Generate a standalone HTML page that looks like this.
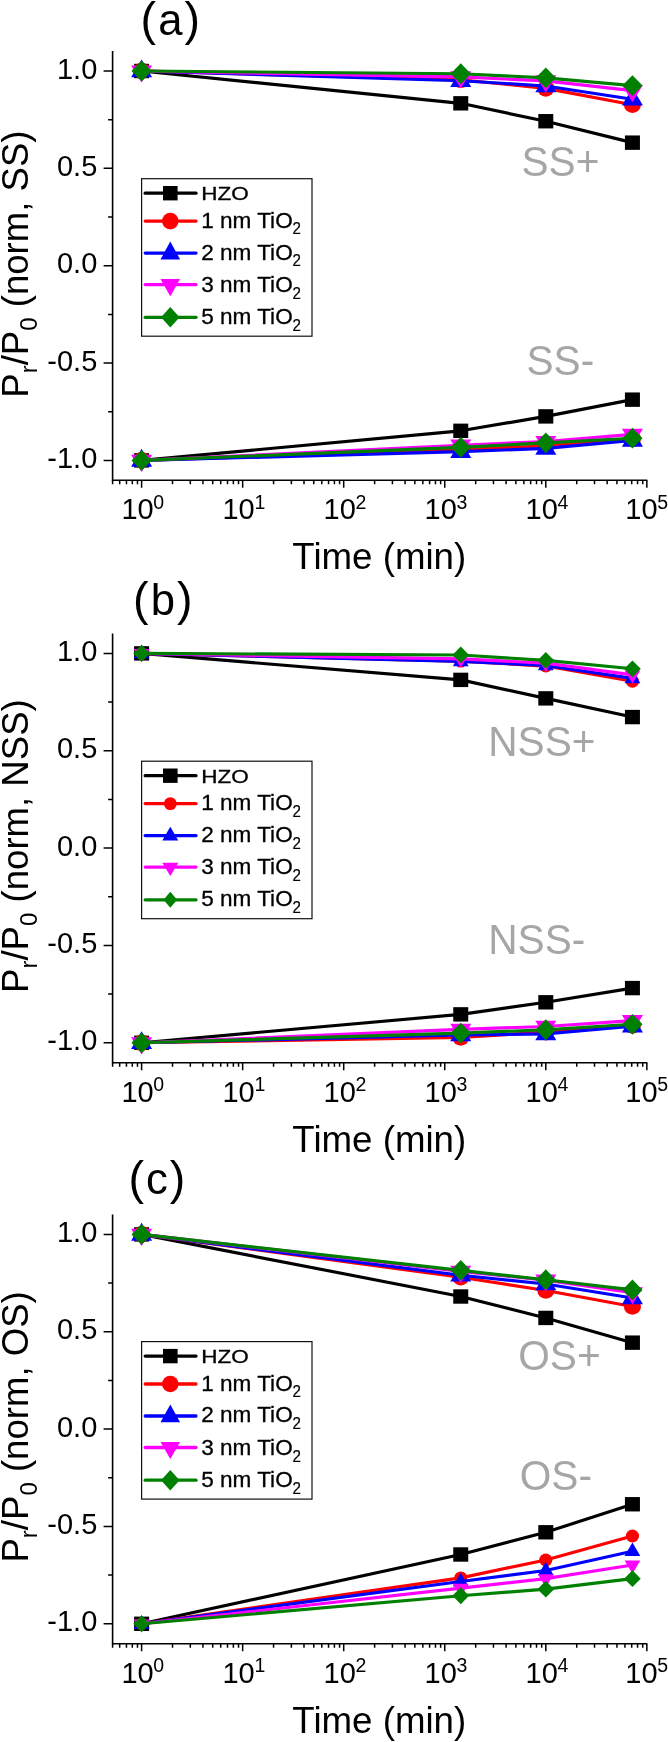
<!DOCTYPE html>
<html><head><meta charset="utf-8"><title>Retention</title>
<style>html,body{margin:0;padding:0;background:#fff}svg{display:block;will-change:transform}text{font-family:"Liberation Sans",sans-serif}</style>
</head><body>
<svg width="668" height="1742" viewBox="0 0 668 1742">
<rect width="668" height="1742" fill="#fff"/>
<g transform="translate(0,0)">
<polyline points="141.60,71.00 460.75,103.32 545.80,121.23 632.43,142.65" fill="none" stroke="#000" stroke-width="3.15" stroke-linejoin="round"/>
<rect x="134.10" y="63.80" width="15.0" height="14.4" fill="#000"/>
<rect x="453.25" y="96.12" width="15.0" height="14.4" fill="#000"/>
<rect x="538.30" y="114.03" width="15.0" height="14.4" fill="#000"/>
<rect x="624.93" y="135.45" width="15.0" height="14.4" fill="#000"/>
<polyline points="141.60,71.00 460.75,79.76 545.80,88.33 632.43,104.68" fill="none" stroke="#ff0000" stroke-width="3.15" stroke-linejoin="round"/>
<ellipse cx="141.60" cy="71.00" rx="8.55" ry="8.3" fill="#ff0000"/>
<ellipse cx="460.75" cy="79.76" rx="8.55" ry="8.3" fill="#ff0000"/>
<ellipse cx="545.80" cy="88.33" rx="8.55" ry="8.3" fill="#ff0000"/>
<ellipse cx="632.43" cy="104.68" rx="8.55" ry="8.3" fill="#ff0000"/>
<polyline points="141.60,71.00 460.75,80.74 545.80,85.99 632.43,99.23" fill="none" stroke="#0000ff" stroke-width="3.15" stroke-linejoin="round"/>
<polygon points="141.60,59.40 152.10,77.30 131.10,77.30" fill="#0000ff"/>
<polygon points="460.75,69.14 471.25,87.04 450.25,87.04" fill="#0000ff"/>
<polygon points="545.80,74.39 556.30,92.29 535.30,92.29" fill="#0000ff"/>
<polygon points="632.43,87.63 642.93,105.53 621.93,105.53" fill="#0000ff"/>
<polyline points="141.60,71.00 460.75,76.84 545.80,80.93 632.43,90.66" fill="none" stroke="#ff00ff" stroke-width="3.15" stroke-linejoin="round"/>
<polygon points="141.60,82.60 152.10,65.40 131.10,65.40" fill="#ff00ff"/>
<polygon points="460.75,88.44 471.25,71.24 450.25,71.24" fill="#ff00ff"/>
<polygon points="545.80,92.53 556.30,75.33 535.30,75.33" fill="#ff00ff"/>
<polygon points="632.43,102.26 642.93,85.06 621.93,85.06" fill="#ff00ff"/>
<polyline points="141.60,71.00 460.75,73.73 545.80,77.81 632.43,85.60" fill="none" stroke="#008000" stroke-width="3.15" stroke-linejoin="round"/>
<polygon points="141.60,60.60 151.70,71.00 141.60,81.40 131.50,71.00" fill="#008000"/>
<polygon points="460.75,63.33 470.85,73.73 460.75,84.13 450.65,73.73" fill="#008000"/>
<polygon points="545.80,67.41 555.90,77.81 545.80,88.21 535.70,77.81" fill="#008000"/>
<polygon points="632.43,75.20 642.53,85.60 632.43,96.00 622.33,85.60" fill="#008000"/>
<polyline points="141.60,460.40 460.75,430.81 545.80,416.40 632.43,399.65" fill="none" stroke="#000" stroke-width="3.15" stroke-linejoin="round"/>
<rect x="134.10" y="453.20" width="15.0" height="14.4" fill="#000"/>
<rect x="453.25" y="423.61" width="15.0" height="14.4" fill="#000"/>
<rect x="538.30" y="409.20" width="15.0" height="14.4" fill="#000"/>
<rect x="624.93" y="392.45" width="15.0" height="14.4" fill="#000"/>
<polyline points="141.60,460.40 460.75,449.69 545.80,445.80 632.43,438.98" fill="none" stroke="#ff0000" stroke-width="3.15" stroke-linejoin="round"/>
<ellipse cx="141.60" cy="460.40" rx="8.55" ry="8.3" fill="#ff0000"/>
<ellipse cx="460.75" cy="449.69" rx="8.55" ry="8.3" fill="#ff0000"/>
<ellipse cx="545.80" cy="445.80" rx="8.55" ry="8.3" fill="#ff0000"/>
<ellipse cx="632.43" cy="438.98" rx="8.55" ry="8.3" fill="#ff0000"/>
<polyline points="141.60,460.40 460.75,451.64 545.80,448.33 632.43,440.35" fill="none" stroke="#0000ff" stroke-width="3.15" stroke-linejoin="round"/>
<polygon points="141.60,448.80 152.10,466.70 131.10,466.70" fill="#0000ff"/>
<polygon points="460.75,440.04 471.25,457.94 450.25,457.94" fill="#0000ff"/>
<polygon points="545.80,436.73 556.30,454.63 535.30,454.63" fill="#0000ff"/>
<polygon points="632.43,428.75 642.93,446.65 621.93,446.65" fill="#0000ff"/>
<polyline points="141.60,460.40 460.75,445.21 545.80,441.51 632.43,434.31" fill="none" stroke="#ff00ff" stroke-width="3.15" stroke-linejoin="round"/>
<polygon points="141.60,472.00 152.10,454.80 131.10,454.80" fill="#ff00ff"/>
<polygon points="460.75,456.81 471.25,439.61 450.25,439.61" fill="#ff00ff"/>
<polygon points="545.80,453.11 556.30,435.91 535.30,435.91" fill="#ff00ff"/>
<polygon points="632.43,445.91 642.93,428.71 621.93,428.71" fill="#ff00ff"/>
<polyline points="141.60,460.40 460.75,447.36 545.80,442.88 632.43,438.20" fill="none" stroke="#008000" stroke-width="3.15" stroke-linejoin="round"/>
<polygon points="141.60,450.00 151.70,460.40 141.60,470.80 131.50,460.40" fill="#008000"/>
<polygon points="460.75,436.96 470.85,447.36 460.75,457.76 450.65,447.36" fill="#008000"/>
<polygon points="545.80,432.48 555.90,442.88 545.80,453.28 535.70,442.88" fill="#008000"/>
<polygon points="632.43,427.80 642.53,438.20 632.43,448.60 622.33,438.20" fill="#008000"/>
<path d="M112.6,51.00 V480.30 H647.3000000000001" fill="none" stroke="#000" stroke-width="1.6"/>
<path d="M103.6,71.00 H112.6 M108.1,119.67 H112.6 M103.6,168.35 H112.6 M108.1,217.02 H112.6 M103.6,265.70 H112.6 M108.1,314.38 H112.6 M103.6,363.05 H112.6 M108.1,411.72 H112.6 M103.6,460.40 H112.6 M112.6,480.30 v4 M119.68,480.30 v4 M126.45,480.30 v4 M132.31,480.30 v4 M137.48,480.30 v4 M141.60,480.30 v7.5 M172.52,480.30 v4 M190.31,480.30 v4 M202.94,480.30 v4 M212.73,480.30 v4 M220.73,480.30 v4 M227.50,480.30 v4 M233.36,480.30 v4 M238.53,480.30 v4 M242.65,480.30 v7.5 M273.57,480.30 v4 M291.36,480.30 v4 M303.99,480.30 v4 M313.78,480.30 v4 M321.78,480.30 v4 M328.55,480.30 v4 M334.41,480.30 v4 M339.58,480.30 v4 M343.70,480.30 v7.5 M374.62,480.30 v4 M392.41,480.30 v4 M405.04,480.30 v4 M414.83,480.30 v4 M422.83,480.30 v4 M429.60,480.30 v4 M435.46,480.30 v4 M440.63,480.30 v4 M444.75,480.30 v7.5 M475.67,480.30 v4 M493.46,480.30 v4 M506.09,480.30 v4 M515.88,480.30 v4 M523.88,480.30 v4 M530.65,480.30 v4 M536.51,480.30 v4 M541.68,480.30 v4 M545.80,480.30 v7.5 M576.72,480.30 v4 M594.51,480.30 v4 M607.14,480.30 v4 M616.93,480.30 v4 M624.93,480.30 v4 M631.70,480.30 v4 M637.56,480.30 v4 M642.73,480.30 v4 M646.85,480.30 v7.5" fill="none" stroke="#000" stroke-width="1.5"/>
<text x="97.3" y="78.60" font-size="29" text-anchor="end">1.0</text>
<text x="97.3" y="175.95" font-size="29" text-anchor="end">0.5</text>
<text x="97.3" y="273.30" font-size="29" text-anchor="end">0.0</text>
<text x="97.3" y="370.65" font-size="29" text-anchor="end">-0.5</text>
<text x="97.3" y="468.00" font-size="29" text-anchor="end">-1.0</text>
<text x="121.40" y="519.4" font-size="29">10<tspan font-size="19.5" dy="-10.5" dx="-0.3">0</tspan></text>
<text x="222.45" y="519.4" font-size="29">10<tspan font-size="19.5" dy="-10.5" dx="-0.3">1</tspan></text>
<text x="323.50" y="519.4" font-size="29">10<tspan font-size="19.5" dy="-10.5" dx="-0.3">2</tspan></text>
<text x="424.55" y="519.4" font-size="29">10<tspan font-size="19.5" dy="-10.5" dx="-0.3">3</tspan></text>
<text x="525.60" y="519.4" font-size="29">10<tspan font-size="19.5" dy="-10.5" dx="-0.3">4</tspan></text>
<text x="625.25" y="519.4" font-size="29">10<tspan font-size="19.5" dy="-10.5" dx="-0.3">5</tspan></text>
<text x="379.3" y="569.2" font-size="36.7" text-anchor="middle">Time (min)</text>
<text x="140.6" y="34.5" font-size="46.6" letter-spacing="2.0">(<tspan font-size="43.6">a</tspan>)</text>
<text transform="translate(28.3,264.1) rotate(-90)" font-size="36.6" text-anchor="middle">P<tspan font-size="24" dy="8.5">r</tspan><tspan dy="-8.5">/P</tspan><tspan font-size="24" dy="8.5">0</tspan><tspan dy="-8.5"> (norm, SS)</tspan></text>
<text transform="translate(521.5,176.4) scale(1,1.045)" font-size="40.6" fill="#a6a6a6">SS+</text>
<text transform="translate(526.5,375.4) scale(1,1.045)" font-size="40.6" fill="#a6a6a6">SS-</text>
<rect x="141.6" y="178.7" width="170.4" height="157.5" fill="#fff" stroke="#111" stroke-width="1.2"/>
<path d="M145.2,193.2 H196" stroke="#000" stroke-width="3.3" stroke-linecap="round"/>
<rect x="163.00" y="186.00" width="14.6" height="14.4" fill="#000"/>
<text x="201.3" y="200.4" font-size="19" textLength="47.5" lengthAdjust="spacingAndGlyphs" stroke="#000" stroke-width="0.3">HZO</text>
<path d="M145.2,221.1 H196" stroke="#ff0000" stroke-width="3.3" stroke-linecap="round"/>
<ellipse cx="170.30" cy="221.10" rx="8.30" ry="8.3" fill="#ff0000"/>
<text x="201.2" y="227.7" font-size="21.6" textLength="91.5" lengthAdjust="spacingAndGlyphs" stroke="#000" stroke-width="0.3">1 nm TiO</text>
<text x="292.4" y="234.39999999999998" font-size="16.5" textLength="8.4" lengthAdjust="spacingAndGlyphs" stroke="#000" stroke-width="0.2">2</text>
<path d="M145.2,253.1 H196" stroke="#0000ff" stroke-width="3.3" stroke-linecap="round"/>
<polygon points="170.30,241.50 180.10,259.40 160.50,259.40" fill="#0000ff"/>
<text x="201.2" y="259.6" font-size="21.6" textLength="91.5" lengthAdjust="spacingAndGlyphs" stroke="#000" stroke-width="0.3">2 nm TiO</text>
<text x="292.4" y="266.3" font-size="16.5" textLength="8.4" lengthAdjust="spacingAndGlyphs" stroke="#000" stroke-width="0.2">2</text>
<path d="M145.2,284.6 H196" stroke="#ff00ff" stroke-width="3.3" stroke-linecap="round"/>
<polygon points="170.30,296.20 180.10,279.00 160.50,279.00" fill="#ff00ff"/>
<text x="201.2" y="292.0" font-size="21.6" textLength="91.5" lengthAdjust="spacingAndGlyphs" stroke="#000" stroke-width="0.3">3 nm TiO</text>
<text x="292.4" y="298.7" font-size="16.5" textLength="8.4" lengthAdjust="spacingAndGlyphs" stroke="#000" stroke-width="0.2">2</text>
<path d="M145.2,317.3 H196" stroke="#008000" stroke-width="3.3" stroke-linecap="round"/>
<polygon points="170.30,307.00 179.60,317.30 170.30,327.60 161.00,317.30" fill="#008000"/>
<text x="201.2" y="324.0" font-size="21.6" textLength="91.5" lengthAdjust="spacingAndGlyphs" stroke="#000" stroke-width="0.3">5 nm TiO</text>
<text x="292.4" y="330.7" font-size="16.5" textLength="8.4" lengthAdjust="spacingAndGlyphs" stroke="#000" stroke-width="0.2">2</text>
</g>
<g transform="translate(0,582.4)">
<polyline points="141.60,71.00 460.75,97.48 545.80,115.98 632.43,134.67" fill="none" stroke="#000" stroke-width="3.15" stroke-linejoin="round"/>
<rect x="134.10" y="63.80" width="15.0" height="14.4" fill="#000"/>
<rect x="453.25" y="90.28" width="15.0" height="14.4" fill="#000"/>
<rect x="538.30" y="108.78" width="15.0" height="14.4" fill="#000"/>
<rect x="624.93" y="127.47" width="15.0" height="14.4" fill="#000"/>
<polyline points="141.60,71.00 460.75,78.79 545.80,83.66 632.43,98.84" fill="none" stroke="#ff0000" stroke-width="3.15" stroke-linejoin="round"/>
<ellipse cx="141.60" cy="71.00" rx="6.59" ry="6.4" fill="#ff0000"/>
<ellipse cx="460.75" cy="78.79" rx="6.59" ry="6.4" fill="#ff0000"/>
<ellipse cx="545.80" cy="83.66" rx="6.59" ry="6.4" fill="#ff0000"/>
<ellipse cx="632.43" cy="98.84" rx="6.59" ry="6.4" fill="#ff0000"/>
<polyline points="141.60,71.00 460.75,78.98 545.80,83.07 632.43,95.92" fill="none" stroke="#0000ff" stroke-width="3.15" stroke-linejoin="round"/>
<polygon points="141.60,62.20 149.50,75.90 133.70,75.90" fill="#0000ff"/>
<polygon points="460.75,70.18 468.65,83.88 452.85,83.88" fill="#0000ff"/>
<polygon points="545.80,74.27 553.70,87.97 537.90,87.97" fill="#0000ff"/>
<polygon points="632.43,87.12 640.33,100.82 624.53,100.82" fill="#0000ff"/>
<polyline points="141.60,71.00 460.75,76.45 545.80,80.74 632.43,92.42" fill="none" stroke="#ff00ff" stroke-width="3.15" stroke-linejoin="round"/>
<polygon points="141.60,79.80 149.50,66.60 133.70,66.60" fill="#ff00ff"/>
<polygon points="460.75,85.25 468.65,72.05 452.85,72.05" fill="#ff00ff"/>
<polygon points="545.80,89.54 553.70,76.34 537.90,76.34" fill="#ff00ff"/>
<polygon points="632.43,101.22 640.33,88.02 624.53,88.02" fill="#ff00ff"/>
<polyline points="141.60,71.00 460.75,72.56 545.80,78.01 632.43,86.38" fill="none" stroke="#008000" stroke-width="3.15" stroke-linejoin="round"/>
<polygon points="141.60,62.60 149.90,71.00 141.60,79.40 133.30,71.00" fill="#008000"/>
<polygon points="460.75,64.16 469.05,72.56 460.75,80.96 452.45,72.56" fill="#008000"/>
<polygon points="545.80,69.61 554.10,78.01 545.80,86.41 537.50,78.01" fill="#008000"/>
<polygon points="632.43,77.98 640.73,86.38 632.43,94.78 624.13,86.38" fill="#008000"/>
<polyline points="141.60,460.40 460.75,431.97 545.80,419.90 632.43,405.69" fill="none" stroke="#000" stroke-width="3.15" stroke-linejoin="round"/>
<rect x="134.10" y="453.20" width="15.0" height="14.4" fill="#000"/>
<rect x="453.25" y="424.77" width="15.0" height="14.4" fill="#000"/>
<rect x="538.30" y="412.70" width="15.0" height="14.4" fill="#000"/>
<rect x="624.93" y="398.49" width="15.0" height="14.4" fill="#000"/>
<polyline points="141.60,460.40 460.75,454.95 545.80,449.69 632.43,442.88" fill="none" stroke="#ff0000" stroke-width="3.15" stroke-linejoin="round"/>
<ellipse cx="141.60" cy="460.40" rx="8.55" ry="8.3" fill="#ff0000"/>
<ellipse cx="460.75" cy="454.95" rx="8.55" ry="8.3" fill="#ff0000"/>
<ellipse cx="545.80" cy="449.69" rx="8.55" ry="8.3" fill="#ff0000"/>
<ellipse cx="632.43" cy="442.88" rx="8.55" ry="8.3" fill="#ff0000"/>
<polyline points="141.60,460.40 460.75,452.61 545.80,451.44 632.43,443.85" fill="none" stroke="#0000ff" stroke-width="3.15" stroke-linejoin="round"/>
<polygon points="141.60,448.80 152.10,466.70 131.10,466.70" fill="#0000ff"/>
<polygon points="460.75,441.01 471.25,458.91 450.25,458.91" fill="#0000ff"/>
<polygon points="545.80,439.84 556.30,457.74 535.30,457.74" fill="#0000ff"/>
<polygon points="632.43,432.25 642.93,450.15 621.93,450.15" fill="#0000ff"/>
<polyline points="141.60,460.40 460.75,446.97 545.80,444.05 632.43,438.20" fill="none" stroke="#ff00ff" stroke-width="3.15" stroke-linejoin="round"/>
<polygon points="141.60,472.00 152.10,454.80 131.10,454.80" fill="#ff00ff"/>
<polygon points="460.75,458.57 471.25,441.37 450.25,441.37" fill="#ff00ff"/>
<polygon points="545.80,455.65 556.30,438.45 535.30,438.45" fill="#ff00ff"/>
<polygon points="632.43,449.80 642.93,432.60 621.93,432.60" fill="#ff00ff"/>
<polyline points="141.60,460.40 460.75,450.66 545.80,447.36 632.43,441.90" fill="none" stroke="#008000" stroke-width="3.15" stroke-linejoin="round"/>
<polygon points="141.60,450.00 151.70,460.40 141.60,470.80 131.50,460.40" fill="#008000"/>
<polygon points="460.75,440.26 470.85,450.66 460.75,461.06 450.65,450.66" fill="#008000"/>
<polygon points="545.80,436.96 555.90,447.36 545.80,457.76 535.70,447.36" fill="#008000"/>
<polygon points="632.43,431.50 642.53,441.90 632.43,452.30 622.33,441.90" fill="#008000"/>
<path d="M112.6,51.00 V480.30 H647.3000000000001" fill="none" stroke="#000" stroke-width="1.6"/>
<path d="M103.6,71.00 H112.6 M108.1,119.67 H112.6 M103.6,168.35 H112.6 M108.1,217.02 H112.6 M103.6,265.70 H112.6 M108.1,314.38 H112.6 M103.6,363.05 H112.6 M108.1,411.72 H112.6 M103.6,460.40 H112.6 M112.6,480.30 v4 M119.68,480.30 v4 M126.45,480.30 v4 M132.31,480.30 v4 M137.48,480.30 v4 M141.60,480.30 v7.5 M172.52,480.30 v4 M190.31,480.30 v4 M202.94,480.30 v4 M212.73,480.30 v4 M220.73,480.30 v4 M227.50,480.30 v4 M233.36,480.30 v4 M238.53,480.30 v4 M242.65,480.30 v7.5 M273.57,480.30 v4 M291.36,480.30 v4 M303.99,480.30 v4 M313.78,480.30 v4 M321.78,480.30 v4 M328.55,480.30 v4 M334.41,480.30 v4 M339.58,480.30 v4 M343.70,480.30 v7.5 M374.62,480.30 v4 M392.41,480.30 v4 M405.04,480.30 v4 M414.83,480.30 v4 M422.83,480.30 v4 M429.60,480.30 v4 M435.46,480.30 v4 M440.63,480.30 v4 M444.75,480.30 v7.5 M475.67,480.30 v4 M493.46,480.30 v4 M506.09,480.30 v4 M515.88,480.30 v4 M523.88,480.30 v4 M530.65,480.30 v4 M536.51,480.30 v4 M541.68,480.30 v4 M545.80,480.30 v7.5 M576.72,480.30 v4 M594.51,480.30 v4 M607.14,480.30 v4 M616.93,480.30 v4 M624.93,480.30 v4 M631.70,480.30 v4 M637.56,480.30 v4 M642.73,480.30 v4 M646.85,480.30 v7.5" fill="none" stroke="#000" stroke-width="1.5"/>
<text x="97.3" y="78.60" font-size="29" text-anchor="end">1.0</text>
<text x="97.3" y="175.95" font-size="29" text-anchor="end">0.5</text>
<text x="97.3" y="273.30" font-size="29" text-anchor="end">0.0</text>
<text x="97.3" y="370.65" font-size="29" text-anchor="end">-0.5</text>
<text x="97.3" y="468.00" font-size="29" text-anchor="end">-1.0</text>
<text x="121.40" y="519.4" font-size="29">10<tspan font-size="19.5" dy="-10.5" dx="-0.3">0</tspan></text>
<text x="222.45" y="519.4" font-size="29">10<tspan font-size="19.5" dy="-10.5" dx="-0.3">1</tspan></text>
<text x="323.50" y="519.4" font-size="29">10<tspan font-size="19.5" dy="-10.5" dx="-0.3">2</tspan></text>
<text x="424.55" y="519.4" font-size="29">10<tspan font-size="19.5" dy="-10.5" dx="-0.3">3</tspan></text>
<text x="525.60" y="519.4" font-size="29">10<tspan font-size="19.5" dy="-10.5" dx="-0.3">4</tspan></text>
<text x="625.25" y="519.4" font-size="29">10<tspan font-size="19.5" dy="-10.5" dx="-0.3">5</tspan></text>
<text x="379.3" y="569.2" font-size="36.7" text-anchor="middle">Time (min)</text>
<text x="133.1" y="32.9" font-size="46.6" letter-spacing="2.0">(<tspan font-size="43.6">b</tspan>)</text>
<text transform="translate(28.3,263.7) rotate(-90)" font-size="36.6" text-anchor="middle">P<tspan font-size="24" dy="8.5">r</tspan><tspan dy="-8.5">/P</tspan><tspan font-size="24" dy="8.5">0</tspan><tspan dy="-8.5"> (norm, NSS)</tspan></text>
<text transform="translate(488.3,174.0) scale(1,1.045)" font-size="40.6" fill="#a6a6a6">NSS+</text>
<text transform="translate(488.3,372.0) scale(1,1.045)" font-size="40.6" fill="#a6a6a6">NSS-</text>
<rect x="141.6" y="178.79999999999998" width="170.4" height="157.5" fill="#fff" stroke="#111" stroke-width="1.2"/>
<path d="M145.2,193.29999999999998 H196" stroke="#000" stroke-width="3.3" stroke-linecap="round"/>
<rect x="163.00" y="186.10" width="14.6" height="14.4" fill="#000"/>
<text x="201.3" y="200.5" font-size="19" textLength="47.5" lengthAdjust="spacingAndGlyphs" stroke="#000" stroke-width="0.3">HZO</text>
<path d="M145.2,221.2 H196" stroke="#ff0000" stroke-width="3.3" stroke-linecap="round"/>
<ellipse cx="170.30" cy="221.20" rx="6.40" ry="6.4" fill="#ff0000"/>
<text x="201.2" y="227.79999999999998" font-size="21.6" textLength="91.5" lengthAdjust="spacingAndGlyphs" stroke="#000" stroke-width="0.3">1 nm TiO</text>
<text x="292.4" y="234.49999999999997" font-size="16.5" textLength="8.4" lengthAdjust="spacingAndGlyphs" stroke="#000" stroke-width="0.2">2</text>
<path d="M145.2,253.2 H196" stroke="#0000ff" stroke-width="3.3" stroke-linecap="round"/>
<polygon points="170.30,244.40 178.30,258.10 162.30,258.10" fill="#0000ff"/>
<text x="201.2" y="259.70000000000005" font-size="21.6" textLength="91.5" lengthAdjust="spacingAndGlyphs" stroke="#000" stroke-width="0.3">2 nm TiO</text>
<text x="292.4" y="266.40000000000003" font-size="16.5" textLength="8.4" lengthAdjust="spacingAndGlyphs" stroke="#000" stroke-width="0.2">2</text>
<path d="M145.2,284.70000000000005 H196" stroke="#ff00ff" stroke-width="3.3" stroke-linecap="round"/>
<polygon points="170.30,293.50 178.30,280.30 162.30,280.30" fill="#ff00ff"/>
<text x="201.2" y="292.1" font-size="21.6" textLength="91.5" lengthAdjust="spacingAndGlyphs" stroke="#000" stroke-width="0.3">3 nm TiO</text>
<text x="292.4" y="298.8" font-size="16.5" textLength="8.4" lengthAdjust="spacingAndGlyphs" stroke="#000" stroke-width="0.2">2</text>
<path d="M145.2,317.40000000000003 H196" stroke="#008000" stroke-width="3.3" stroke-linecap="round"/>
<polygon points="170.30,309.40 177.10,317.40 170.30,325.40 163.50,317.40" fill="#008000"/>
<text x="201.2" y="324.1" font-size="21.6" textLength="91.5" lengthAdjust="spacingAndGlyphs" stroke="#000" stroke-width="0.3">5 nm TiO</text>
<text x="292.4" y="330.8" font-size="16.5" textLength="8.4" lengthAdjust="spacingAndGlyphs" stroke="#000" stroke-width="0.2">2</text>
</g>
<g transform="translate(0,1163.4)">
<polyline points="141.60,71.00 460.75,133.11 545.80,154.53 632.43,179.25" fill="none" stroke="#000" stroke-width="3.15" stroke-linejoin="round"/>
<rect x="134.10" y="63.80" width="15.0" height="14.4" fill="#000"/>
<rect x="453.25" y="125.91" width="15.0" height="14.4" fill="#000"/>
<rect x="538.30" y="147.33" width="15.0" height="14.4" fill="#000"/>
<rect x="624.93" y="172.05" width="15.0" height="14.4" fill="#000"/>
<polyline points="141.60,71.00 460.75,113.83 545.80,127.07 632.43,143.04" fill="none" stroke="#ff0000" stroke-width="3.15" stroke-linejoin="round"/>
<ellipse cx="141.60" cy="71.00" rx="8.55" ry="8.3" fill="#ff0000"/>
<ellipse cx="460.75" cy="113.83" rx="8.55" ry="8.3" fill="#ff0000"/>
<ellipse cx="545.80" cy="127.07" rx="8.55" ry="8.3" fill="#ff0000"/>
<ellipse cx="632.43" cy="143.04" rx="8.55" ry="8.3" fill="#ff0000"/>
<polyline points="141.60,71.00 460.75,111.89 545.80,120.65 632.43,134.67" fill="none" stroke="#0000ff" stroke-width="3.15" stroke-linejoin="round"/>
<polygon points="141.60,59.40 152.10,77.30 131.10,77.30" fill="#0000ff"/>
<polygon points="460.75,100.29 471.25,118.19 450.25,118.19" fill="#0000ff"/>
<polygon points="545.80,109.05 556.30,126.95 535.30,126.95" fill="#0000ff"/>
<polygon points="632.43,123.07 642.93,140.97 621.93,140.97" fill="#0000ff"/>
<polyline points="141.60,71.00 460.75,107.99 545.80,116.75 632.43,129.41" fill="none" stroke="#ff00ff" stroke-width="3.15" stroke-linejoin="round"/>
<polygon points="141.60,82.60 152.10,65.40 131.10,65.40" fill="#ff00ff"/>
<polygon points="460.75,119.59 471.25,102.39 450.25,102.39" fill="#ff00ff"/>
<polygon points="545.80,128.35 556.30,111.15 535.30,111.15" fill="#ff00ff"/>
<polygon points="632.43,141.01 642.93,123.81 621.93,123.81" fill="#ff00ff"/>
<polyline points="141.60,71.00 460.75,107.02 545.80,116.37 632.43,126.49" fill="none" stroke="#008000" stroke-width="3.15" stroke-linejoin="round"/>
<polygon points="141.60,60.60 151.70,71.00 141.60,81.40 131.50,71.00" fill="#008000"/>
<polygon points="460.75,96.62 470.85,107.02 460.75,117.42 450.65,107.02" fill="#008000"/>
<polygon points="545.80,105.97 555.90,116.37 545.80,126.77 535.70,116.37" fill="#008000"/>
<polygon points="632.43,116.09 642.53,126.49 632.43,136.89 622.33,126.49" fill="#008000"/>
<polyline points="141.60,460.40 460.75,391.09 545.80,368.89 632.43,340.85" fill="none" stroke="#000" stroke-width="3.15" stroke-linejoin="round"/>
<rect x="134.10" y="453.20" width="15.0" height="14.4" fill="#000"/>
<rect x="453.25" y="383.89" width="15.0" height="14.4" fill="#000"/>
<rect x="538.30" y="361.69" width="15.0" height="14.4" fill="#000"/>
<rect x="624.93" y="333.65" width="15.0" height="14.4" fill="#000"/>
<polyline points="141.60,460.40 460.75,414.45 545.80,396.54 632.43,372.59" fill="none" stroke="#ff0000" stroke-width="3.15" stroke-linejoin="round"/>
<ellipse cx="141.60" cy="460.40" rx="6.59" ry="6.4" fill="#ff0000"/>
<ellipse cx="460.75" cy="414.45" rx="6.59" ry="6.4" fill="#ff0000"/>
<ellipse cx="545.80" cy="396.54" rx="6.59" ry="6.4" fill="#ff0000"/>
<ellipse cx="632.43" cy="372.59" rx="6.59" ry="6.4" fill="#ff0000"/>
<polyline points="141.60,460.40 460.75,418.15 545.80,407.05 632.43,387.78" fill="none" stroke="#0000ff" stroke-width="3.15" stroke-linejoin="round"/>
<polygon points="141.60,451.60 149.50,465.30 133.70,465.30" fill="#0000ff"/>
<polygon points="460.75,409.35 468.65,423.05 452.85,423.05" fill="#0000ff"/>
<polygon points="545.80,398.25 553.70,411.95 537.90,411.95" fill="#0000ff"/>
<polygon points="632.43,378.98 640.33,392.68 624.53,392.68" fill="#0000ff"/>
<polyline points="141.60,460.40 460.75,424.77 545.80,415.23 632.43,401.60" fill="none" stroke="#ff00ff" stroke-width="3.15" stroke-linejoin="round"/>
<polygon points="141.60,469.20 149.50,456.00 133.70,456.00" fill="#ff00ff"/>
<polygon points="460.75,433.57 468.65,420.37 452.85,420.37" fill="#ff00ff"/>
<polygon points="545.80,424.03 553.70,410.83 537.90,410.83" fill="#ff00ff"/>
<polygon points="632.43,410.40 640.33,397.20 624.53,397.20" fill="#ff00ff"/>
<polyline points="141.60,460.40 460.75,432.36 545.80,425.74 632.43,415.23" fill="none" stroke="#008000" stroke-width="3.15" stroke-linejoin="round"/>
<polygon points="141.60,452.00 149.90,460.40 141.60,468.80 133.30,460.40" fill="#008000"/>
<polygon points="460.75,423.96 469.05,432.36 460.75,440.76 452.45,432.36" fill="#008000"/>
<polygon points="545.80,417.34 554.10,425.74 545.80,434.14 537.50,425.74" fill="#008000"/>
<polygon points="632.43,406.83 640.73,415.23 632.43,423.63 624.13,415.23" fill="#008000"/>
<path d="M112.6,51.00 V480.30 H647.3000000000001" fill="none" stroke="#000" stroke-width="1.6"/>
<path d="M103.6,71.00 H112.6 M108.1,119.67 H112.6 M103.6,168.35 H112.6 M108.1,217.02 H112.6 M103.6,265.70 H112.6 M108.1,314.38 H112.6 M103.6,363.05 H112.6 M108.1,411.72 H112.6 M103.6,460.40 H112.6 M112.6,480.30 v4 M119.68,480.30 v4 M126.45,480.30 v4 M132.31,480.30 v4 M137.48,480.30 v4 M141.60,480.30 v7.5 M172.52,480.30 v4 M190.31,480.30 v4 M202.94,480.30 v4 M212.73,480.30 v4 M220.73,480.30 v4 M227.50,480.30 v4 M233.36,480.30 v4 M238.53,480.30 v4 M242.65,480.30 v7.5 M273.57,480.30 v4 M291.36,480.30 v4 M303.99,480.30 v4 M313.78,480.30 v4 M321.78,480.30 v4 M328.55,480.30 v4 M334.41,480.30 v4 M339.58,480.30 v4 M343.70,480.30 v7.5 M374.62,480.30 v4 M392.41,480.30 v4 M405.04,480.30 v4 M414.83,480.30 v4 M422.83,480.30 v4 M429.60,480.30 v4 M435.46,480.30 v4 M440.63,480.30 v4 M444.75,480.30 v7.5 M475.67,480.30 v4 M493.46,480.30 v4 M506.09,480.30 v4 M515.88,480.30 v4 M523.88,480.30 v4 M530.65,480.30 v4 M536.51,480.30 v4 M541.68,480.30 v4 M545.80,480.30 v7.5 M576.72,480.30 v4 M594.51,480.30 v4 M607.14,480.30 v4 M616.93,480.30 v4 M624.93,480.30 v4 M631.70,480.30 v4 M637.56,480.30 v4 M642.73,480.30 v4 M646.85,480.30 v7.5" fill="none" stroke="#000" stroke-width="1.5"/>
<text x="97.3" y="78.60" font-size="29" text-anchor="end">1.0</text>
<text x="97.3" y="175.95" font-size="29" text-anchor="end">0.5</text>
<text x="97.3" y="273.30" font-size="29" text-anchor="end">0.0</text>
<text x="97.3" y="370.65" font-size="29" text-anchor="end">-0.5</text>
<text x="97.3" y="468.00" font-size="29" text-anchor="end">-1.0</text>
<text x="121.40" y="519.4" font-size="29">10<tspan font-size="19.5" dy="-10.5" dx="-0.3">0</tspan></text>
<text x="222.45" y="519.4" font-size="29">10<tspan font-size="19.5" dy="-10.5" dx="-0.3">1</tspan></text>
<text x="323.50" y="519.4" font-size="29">10<tspan font-size="19.5" dy="-10.5" dx="-0.3">2</tspan></text>
<text x="424.55" y="519.4" font-size="29">10<tspan font-size="19.5" dy="-10.5" dx="-0.3">3</tspan></text>
<text x="525.60" y="519.4" font-size="29">10<tspan font-size="19.5" dy="-10.5" dx="-0.3">4</tspan></text>
<text x="625.25" y="519.4" font-size="29">10<tspan font-size="19.5" dy="-10.5" dx="-0.3">5</tspan></text>
<text x="379.3" y="569.2" font-size="36.7" text-anchor="middle">Time (min)</text>
<text x="128.5" y="30.9" font-size="46.6" letter-spacing="2.0">(<tspan font-size="43.6">c</tspan>)</text>
<text transform="translate(28.3,263.5) rotate(-90)" font-size="36.6" text-anchor="middle">P<tspan font-size="24" dy="8.5">r</tspan><tspan dy="-8.5">/P</tspan><tspan font-size="24" dy="8.5">0</tspan><tspan dy="-8.5"> (norm, OS)</tspan></text>
<text transform="translate(518.3,206.1) scale(1,1.045)" font-size="40.6" fill="#a6a6a6">OS+</text>
<text transform="translate(519.8,326.29999999999995) scale(1,1.045)" font-size="40.6" fill="#a6a6a6">OS-</text>
<rect x="141.6" y="178.2" width="170.4" height="157.5" fill="#fff" stroke="#111" stroke-width="1.2"/>
<path d="M145.2,192.7 H196" stroke="#000" stroke-width="3.3" stroke-linecap="round"/>
<rect x="163.00" y="185.50" width="14.6" height="14.4" fill="#000"/>
<text x="201.3" y="199.9" font-size="19" textLength="47.5" lengthAdjust="spacingAndGlyphs" stroke="#000" stroke-width="0.3">HZO</text>
<path d="M145.2,220.6 H196" stroke="#ff0000" stroke-width="3.3" stroke-linecap="round"/>
<ellipse cx="170.30" cy="220.60" rx="8.30" ry="8.3" fill="#ff0000"/>
<text x="201.2" y="227.2" font-size="21.6" textLength="91.5" lengthAdjust="spacingAndGlyphs" stroke="#000" stroke-width="0.3">1 nm TiO</text>
<text x="292.4" y="233.89999999999998" font-size="16.5" textLength="8.4" lengthAdjust="spacingAndGlyphs" stroke="#000" stroke-width="0.2">2</text>
<path d="M145.2,252.6 H196" stroke="#0000ff" stroke-width="3.3" stroke-linecap="round"/>
<polygon points="170.30,241.00 180.10,258.90 160.50,258.90" fill="#0000ff"/>
<text x="201.2" y="259.1" font-size="21.6" textLength="91.5" lengthAdjust="spacingAndGlyphs" stroke="#000" stroke-width="0.3">2 nm TiO</text>
<text x="292.4" y="265.8" font-size="16.5" textLength="8.4" lengthAdjust="spacingAndGlyphs" stroke="#000" stroke-width="0.2">2</text>
<path d="M145.2,284.1 H196" stroke="#ff00ff" stroke-width="3.3" stroke-linecap="round"/>
<polygon points="170.30,295.70 180.10,278.50 160.50,278.50" fill="#ff00ff"/>
<text x="201.2" y="291.5" font-size="21.6" textLength="91.5" lengthAdjust="spacingAndGlyphs" stroke="#000" stroke-width="0.3">3 nm TiO</text>
<text x="292.4" y="298.2" font-size="16.5" textLength="8.4" lengthAdjust="spacingAndGlyphs" stroke="#000" stroke-width="0.2">2</text>
<path d="M145.2,316.8 H196" stroke="#008000" stroke-width="3.3" stroke-linecap="round"/>
<polygon points="170.30,306.50 179.60,316.80 170.30,327.10 161.00,316.80" fill="#008000"/>
<text x="201.2" y="323.5" font-size="21.6" textLength="91.5" lengthAdjust="spacingAndGlyphs" stroke="#000" stroke-width="0.3">5 nm TiO</text>
<text x="292.4" y="330.2" font-size="16.5" textLength="8.4" lengthAdjust="spacingAndGlyphs" stroke="#000" stroke-width="0.2">2</text>
</g>
</svg>
</body></html>
